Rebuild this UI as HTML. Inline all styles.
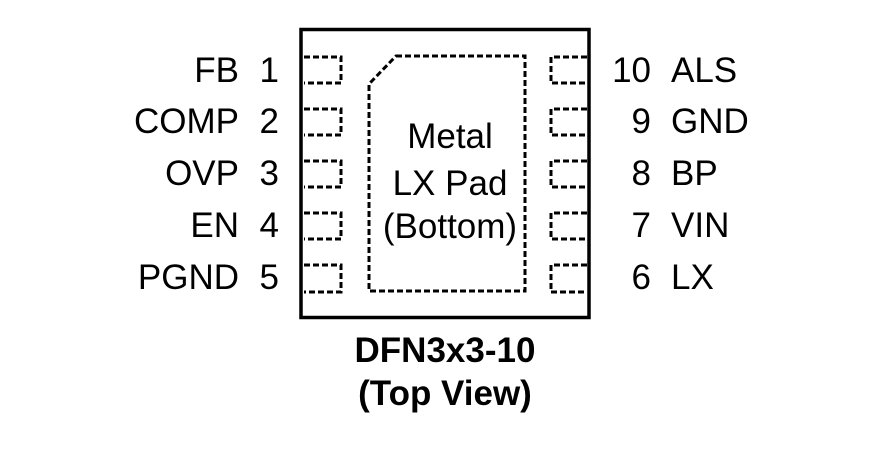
<!DOCTYPE html>
<html><head><style>
body{margin:0;background:#fff;width:885px;height:469px;overflow:hidden}
svg text{font-family:"Liberation Sans",Arial,sans-serif;fill:#000}
</style></head><body>
<svg width="885" height="469" viewBox="0 0 885 469">
<rect x="301" y="29.5" width="288" height="288" fill="none" stroke="#000" stroke-width="3.5"/>
<g fill="none" stroke="#000" stroke-width="3" stroke-dasharray="6,3">
<path d="M304 57H341V83H304"/>
<path d="M304 109H341V135H304"/>
<path d="M304 161H341V187H304"/>
<path d="M304 213H341V239H304"/>
<path d="M304 265H341V292H304"/>
<path d="M587 57H551V83H587"/>
<path d="M587 109H551V135H587"/>
<path d="M587 161H551V187H587"/>
<path d="M587 213H551V239H587"/>
<path d="M587 265H551V292H587"/>
<path d="M396 56H525V291H369V84Z"/>
</g>
<g font-size="35">
<g text-anchor="end">
<text x="239" y="82">FB</text><text x="239" y="133">COMP</text><text x="239" y="185">OVP</text><text x="239" y="237">EN</text><text x="239" y="289">PGND</text>
<text x="279" y="82">1</text><text x="279" y="133">2</text><text x="279" y="185">3</text><text x="279" y="237">4</text><text x="279" y="289">5</text>
<text x="651" y="82">10</text><text x="651" y="133">9</text><text x="651" y="185">8</text><text x="651" y="237">7</text><text x="651" y="289">6</text>
</g>
<text x="671" y="82">ALS</text><text x="671" y="133">GND</text><text x="671" y="185">BP</text><text x="671" y="237">VIN</text><text x="671" y="289">LX</text>
<g text-anchor="middle">
<text x="450" y="148">Metal</text><text x="450" y="195">LX Pad</text><text x="450" y="238">(Bottom)</text>
</g>
</g>
<g font-size="35" font-weight="bold" text-anchor="middle">
<text x="445" y="362">DFN3x3-10</text><text x="445" y="405">(Top View)</text>
</g>
</svg>
</body></html>
